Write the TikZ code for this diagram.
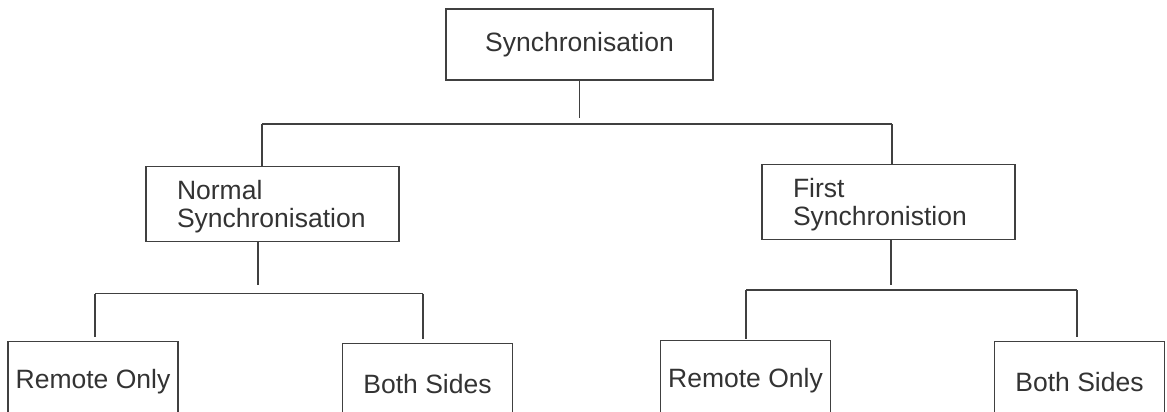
\documentclass[tikz,border=0pt]{standalone}
\usepackage{fontspec}
\setmainfont{Liberation Sans}
\usetikzlibrary{positioning}
\definecolor{linegray}{gray}{0.25}
\definecolor{textgray}{gray}{0.2}
\newcommand{\topstrut}{\rule{0pt}{25.5pt}}

\begin{document}
\begin{tikzpicture}[x=1pt, y=-1pt, font=\fontsize{26.5}{28.5}\selectfont,
    box/.style={draw=linegray, line width=1.2pt, text=textgray, inner sep=0pt},
    topbox/.style={box, minimum width=267pt, minimum height=71pt},
    midbox/.style={box, align=left, text width=191pt, inner xsep=31pt, minimum height=75pt},
    leafbox/.style={box, minimum width=170pt, minimum height=81pt},
    wire/.style={draw=linegray, line width=1.2pt}]
    \useasboundingbox (0,0) rectangle (1167,412);

    % top
    \node(sync) [topbox] at (579.5,44.5) {Synchronisation};

    % second row
    \node(normal) [midbox, below=85pt of sync, xshift=-307pt] {\topstrut Normal\\Synchronisation};
    \node(first)  [midbox, below=83pt of sync, xshift=309pt]  {\topstrut First\\Synchronistion};

    % bottom row
    \node(remoteA) [leafbox, below=99pt of normal, xshift=-179.5pt] {Remote Only};
    \node(bothA)   [leafbox, below=101pt of normal, xshift=155pt]   {Both Sides};
    \node(remoteB) [leafbox, below=100pt of first, xshift=-143pt]   {Remote Only};
    \node(bothB)   [leafbox, below=101pt of first, xshift=191pt]    {Both Sides};

    % bar ends
    \coordinate (syncstub)   at (579.5,118);
    \coordinate (barA)       at (262,124);
    \coordinate (barB)       at (892,124);
    \coordinate (normalstub) at (258,285);
    \coordinate (nbarA)      at (95,293.5);
    \coordinate (nbarB)      at (423,293.5);
    \coordinate (firststub)  at (891,285);
    \coordinate (fbarA)      at (746,290);
    \coordinate (fbarB)      at (1077,290);

    % top level
    \draw [wire] (sync) to (syncstub);
    \draw [wire] (barA) to (barB);
    \draw [wire] (barA) to (barA |- normal.north);
    \draw [wire] (barB) to (barB |- first.north);

    % normal synchronisation
    \draw [wire] (normal.south -| normalstub) to (normalstub);
    \draw [wire] (nbarA) to (nbarB);
    \draw [wire, shorten >=4pt] (nbarA) to (nbarA |- remoteA.north);
    \draw [wire, shorten >=4pt] (nbarB) to (nbarB |- bothA.north);

    % first synchronisation
    \draw [wire] (first.south -| firststub) to (firststub);
    \draw [wire] (fbarA) to (fbarB);
    \draw [wire, shorten >=1pt] (fbarA) to (fbarA |- remoteB.north);
    \draw [wire, shorten >=4pt] (fbarB) to (fbarB |- bothB.north);
\end{tikzpicture}
\end{document}
